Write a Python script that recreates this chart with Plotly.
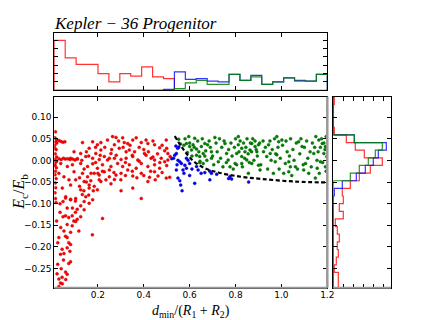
import numpy as np
import plotly.graph_objects as go

# axis ranges
x_range = [0.01, 1.2]
y_range = [-0.294, 0.147]

# red points (d_min/(R1+R2), Ec/Eb)
red_pts = [
    (0.015, 0.066), (0.013, 0.052), (0.02, 0.048), (0.016, 0.043), (0.012, 0.035), (0.018, 0.025),
    (0.014, 0.015), (0.02, 0.008), (0.013, 0.002), (0.017, -0.004), (0.012, -0.01), (0.019, -0.017),
    (0.015, -0.025), (0.013, -0.033), (0.018, -0.042), (0.014, -0.052), (0.016, -0.063), (0.013, -0.075),
    (0.015, -0.088), (0.017, -0.097), (0.013, -0.012), (0.02, -0.002), (0.012, 0.028), (0.021, 0.04),
    (0.03, 0.046), (0.038, 0.044), (0.047, 0.042), (0.056, 0.043),
    (0.03, 0.004), (0.04, 0.002), (0.05, 0.005), (0.058, 0.003), (0.068, 0.004), (0.078, 0.002),
    (0.09, 0.003), (0.1, 0.001), (0.11, 0.004),
    (0.038, -0.007), (0.067, -0.014), (0.03, -0.03), (0.052, -0.038), (0.074, -0.045), (0.045, -0.064),
    (0.081, -0.057), (0.06, -0.084), (0.081, -0.091), (0.103, -0.088), (0.089, -0.11), (0.096, 0.02),
    (0.089, -0.01), (0.096, -0.026), (0.103, -0.045), (0.035, -0.1), (0.048, -0.095),
    (0.03, -0.291), (0.037, -0.283), (0.044, -0.27), (0.03, -0.274), (0.059, -0.258), (0.066, -0.263),
    (0.073, -0.238), (0.081, -0.234), (0.037, -0.217), (0.052, -0.215), (0.044, -0.205), (0.066, -0.202),
    (0.081, -0.194), (0.073, -0.19), (0.03, -0.178), (0.059, -0.175), (0.066, -0.178), (0.052, -0.163),
    (0.081, -0.166), (0.088, -0.151), (0.066, -0.148), (0.095, -0.14), (0.059, -0.128), (0.073, -0.132),
    (0.088, -0.128), (0.102, -0.12), (0.11, -0.113), (0.066, -0.11), (0.059, -0.087), (0.081, -0.09),
    (0.102, -0.094), (0.125, -0.105), (0.117, -0.163), (0.11, -0.136), (0.132, -0.079), (0.139, -0.07),
    (0.169, -0.047), (0.176, -0.172), (0.22, -0.134), (0.04, -0.25), (0.025, -0.24), (0.05, -0.23),
    (0.022, -0.262), (0.045, -0.285), (0.06, -0.275), (0.038, -0.155), (0.025, -0.19), (0.048, -0.13),
    (0.035, -0.12), (0.078, -0.21), (0.02, -0.14),
    (0.133, 0.041), (0.177, 0.043), (0.198, 0.036), (0.213, 0.041), (0.242, 0.047), (0.264, 0.055),
    (0.279, 0.053), (0.272, 0.036), (0.308, 0.052), (0.315, 0.041), (0.33, 0.039), (0.352, 0.047),
    (0.367, 0.052), (0.389, 0.041), (0.41, 0.047), (0.418, 0.039), (0.447, 0.036), (0.469, 0.029),
    (0.498, 0.047), (0.491, 0.022), (0.337, 0.024), (0.323, 0.02), (0.293, 0.028), (0.257, 0.016),
    (0.213, 0.024), (0.191, 0.016), (0.162, 0.028), (0.125, 0.016), (0.081, 0.005), (0.111, 0.003),
    (0.147, 0.009), (0.177, 0.005), (0.206, 0.002), (0.228, 0.009), (0.242, 0.001), (0.272, 0.005),
    (0.301, 0.002), (0.323, 0.005), (0.352, 0.009), (0.374, 0.001), (0.403, 0.016), (0.432, 0.005),
    (0.447, 0.001), (0.476, 0.005), (0.505, 0.001), (0.505, 0.016), (0.515, 0.009),
    (0.125, -0.007), (0.155, -0.014), (0.177, -0.008), (0.198, -0.018), (0.22, -0.01), (0.257, -0.014),
    (0.286, -0.007), (0.308, -0.014), (0.337, -0.01), (0.367, -0.018), (0.389, -0.007), (0.418, -0.014),
    (0.447, -0.01), (0.469, -0.018), (0.491, -0.003), (0.133, -0.03), (0.155, -0.038), (0.184, -0.03),
    (0.206, -0.034), (0.228, -0.026), (0.25, -0.038), (0.279, -0.034), (0.301, -0.03), (0.33, -0.022),
    (0.352, -0.036), (0.389, -0.03), (0.425, -0.039), (0.447, -0.026), (0.462, -0.036), (0.498, -0.041),
    (0.513, -0.039), (0.14, -0.049), (0.162, -0.057), (0.184, -0.06), (0.213, -0.049), (0.235, -0.045),
    (0.257, -0.054), (0.272, -0.044), (0.301, -0.07), (0.352, -0.064), (0.389, -0.088), (0.418, -0.049),
    (0.125, -0.068), (0.162, -0.064), (0.198, -0.068), (0.206, -0.045), (0.147, -0.084), (0.14, -0.114),
    (0.162, -0.099), (0.177, -0.091), (0.125, -0.13), (0.103, -0.141),
    (0.23, 0.03), (0.26, 0.025), (0.29, 0.045), (0.31, 0.03), (0.34, 0.035), (0.36, 0.02),
    (0.38, 0.03), (0.4, 0.025), (0.42, 0.02), (0.44, 0.045), (0.46, 0.015), (0.48, 0.035),
    (0.5, 0.028), (0.22, -0.025), (0.25, -0.022), (0.27, -0.028), (0.3, -0.045), (0.32, -0.035),
    (0.35, -0.025), (0.37, -0.04), (0.4, -0.035), (0.43, -0.025), (0.45, -0.045), (0.48, -0.028),
    (0.5, -0.012), (0.47, -0.005), (0.44, 0.008), (0.41, 0.012), (0.38, -0.002), (0.35, 0.012),
    (0.32, -0.005), (0.28, 0.012), (0.25, 0.005), (0.21, 0.012), (0.19, -0.005), (0.16, 0.01),
    (0.14, -0.02), (0.12, -0.04), (0.15, -0.05), (0.17, -0.03), (0.13, 0.0), (0.12, -0.06),
    (0.16, -0.08), (0.14, -0.095), (0.18, -0.07), (0.2, -0.03), (0.19, 0.03), (0.15, 0.02),
]

blue_pts = [
    (0.542, 0.016), (0.549, 0.0), (0.557, -0.003), (0.535, 0.012), (0.564, -0.007), (0.571, -0.022),
    (0.542, -0.022), (0.549, -0.041), (0.557, -0.047), (0.561, -0.057), (0.567, -0.07), (0.579, -0.011),
    (0.586, -0.018), (0.593, 0.0), (0.586, 0.005), (0.6, -0.007), (0.63, -0.014), (0.637, -0.022),
    (0.622, -0.053), (0.666, -0.028), (0.688, -0.045), (0.688, -0.025), (0.695, -0.03), (0.718, -0.032),
    (0.776, -0.037), (0.783, -0.043), (0.77, -0.042), (0.857, -0.05), (0.54, 0.033), (0.548, 0.028),
    (0.553, 0.031), (0.53, 0.005), (0.522, 0.004), (0.545, -0.01), (0.575, -0.03), (0.61, -0.02),
    (0.65, -0.03), (0.6, -0.035),
]

green_pts = [
    (0.552, 0.049), (0.596, 0.055), (0.622, 0.051), (0.615, 0.036), (0.586, 0.039), (0.6, 0.032),
    (0.608, 0.024), (0.63, 0.026), (0.651, 0.032), (0.666, 0.039), (0.678, 0.036), (0.659, 0.016),
    (0.63, 0.012), (0.644, 0.009), (0.666, 0.01), (0.695, 0.02), (0.71, 0.053), (0.695, 0.005),
    (0.659, -0.007), (0.644, -0.005), (0.725, -0.003), (0.754, 0.039), (0.761, 0.016), (0.768, 0.001),
    (0.776, -0.015), (0.812, 0.055), (0.812, 0.036), (0.827, 0.028), (0.841, 0.02), (0.805, 0.016),
    (0.827, 0.009), (0.798, -0.007), (0.827, -0.007), (0.849, 0.001), (0.871, 0.039), (0.885, 0.032),
    (0.9, 0.036), (0.863, 0.024), (0.893, 0.02), (0.871, -0.007), (0.9, -0.011), (0.907, -0.022),
    (0.856, -0.03), (0.944, 0.036), (0.951, 0.016), (0.98, 0.055), (0.988, 0.043), (1.002, 0.047),
    (0.973, -0.003), (1.017, -0.007), (1.032, -0.003), (1.039, -0.015), (1.075, 0.043), (1.09, 0.032),
    (1.061, -0.015), (1.105, -0.007), (1.119, -0.03), (1.141, 0.016), (1.148, -0.041), (1.163, 0.047),
    (1.178, 0.039), (1.192, 0.032), (1.185, 0.016), (1.198, 0.009), (1.17, -0.003), (1.192, -0.015),
    (1.156, -0.018), (1.032, -0.026), (1.097, -0.022), (0.98, 0.013), (0.936, 0.009), (0.922, 0.02),
    (0.56, 0.038), (0.575, 0.035), (0.58, 0.05), (0.59, 0.018), (0.6, 0.04), (0.61, 0.01),
    (0.62, 0.03), (0.635, 0.045), (0.64, 0.02), (0.645, -0.002), (0.655, 0.05), (0.67, 0.022),
    (0.675, 0.0), (0.685, 0.045), (0.69, 0.03), (0.7, 0.01), (0.705, -0.01), (0.715, 0.04),
    (0.72, 0.02), (0.73, 0.05), (0.735, 0.005), (0.74, 0.03), (0.745, -0.015), (0.75, 0.045),
    (0.76, -0.005), (0.77, 0.025), (0.78, 0.04), (0.785, 0.01), (0.79, -0.02), (0.795, 0.03),
    (0.8, 0.05), (0.805, -0.01), (0.815, 0.02), (0.82, 0.045), (0.83, -0.015), (0.835, 0.04),
    (0.84, 0.005), (0.845, 0.03), (0.85, 0.05), (0.855, 0.015), (0.86, -0.005), (0.865, 0.04),
    (0.87, 0.02), (0.875, 0.05), (0.88, 0.0), (0.885, 0.045), (0.89, 0.025), (0.895, 0.01),
    (0.905, 0.04), (0.91, -0.01), (0.92, 0.045), (0.93, 0.03), (0.94, -0.02), (0.95, 0.045),
    (0.955, 0.0), (0.96, 0.025), (0.965, -0.03), (0.97, 0.05), (0.975, 0.015), (0.985, 0.03),
    (0.99, -0.02), (0.995, 0.005), (1.005, 0.035), (1.01, -0.03), (1.02, 0.045), (1.025, 0.02),
    (1.035, 0.01), (1.04, 0.05), (1.045, -0.035), (1.05, 0.025), (1.055, 0.0), (1.065, 0.04),
    (1.07, -0.02), (1.08, 0.015), (1.085, 0.05), (1.095, -0.01), (1.1, 0.03), (1.11, 0.045),
    (1.115, 0.005), (1.125, 0.02), (1.13, -0.015), (1.135, 0.04), (1.145, 0.03), (1.15, 0.055),
    (1.155, 0.0), (1.16, 0.02), (1.165, -0.03), (1.17, 0.03), (1.175, 0.05), (1.18, -0.005),
    (1.185, 0.04), (1.19, 0.025), (1.195, -0.025), (1.195, 0.055),
]

# dashed boundary curve
curve_x = [0.535, 0.564, 0.586, 0.615, 0.666, 0.725, 0.813, 0.915, 1.061, 1.2]
curve_y = [0.056, 0.032, 0.016, -0.001, -0.018, -0.028, -0.037, -0.043, -0.049, -0.051]

# top histogram counts (25 bins over x_range, left to right)
top_red = [60, 39, 31, 31, 20, 10, 20, 17, 28, 16, 14, 0, 0, 0, 0, 0, 0, 0, 0, 0, 0, 0, 0, 0, 0]
top_blue = [0, 0, 0, 0, 0, 0, 0, 0, 0, 0, 1, 22, 13, 14, 11, 10, 19, 12, 18, 7, 10, 15, 12, 11, 19]
top_green = [0, 0, 0, 0, 0, 0, 0, 0, 0, 0, 0, 2, 9, 12, 7, 7, 19, 12, 16, 7, 10, 15, 11, 11, 19]

# right histogram counts (25 bins over y_range, listed top to bottom)
right_red = [1, 0, 0, 0, 1, 13, 22, 31, 49, 37, 26, 17, 9, 10, 6, 10, 2, 4, 6, 4, 5, 3, 1, 5, 5]
right_blue = [0, 0, 0, 0, 0, 21, 53, 45, 40, 32, 23, 9, 1, 0, 0, 0, 0, 0, 0, 0, 0, 0, 0, 0, 0]
right_green = [0, 0, 0, 0, 0, 21, 49, 42, 35, 26, 17, 0, 0, 0, 0, 0, 0, 0, 0, 0, 0, 0, 0, 0, 0]

RED = '#ff0000'
BLUE = '#0000ff'
GREEN = '#008000'

x_edges = list(np.linspace(x_range[0], x_range[1], 26))
y_edges = list(np.linspace(y_range[0], y_range[1], 26))


def top_step(counts):
    xs = [x_edges[0]] + x_edges + [x_edges[-1]]
    ys = [0] + counts + [counts[-1], 0]
    return xs, ys


def right_step(counts):
    c = counts[::-1]
    ys = [y_edges[0]] + y_edges + [y_edges[-1]]
    xs = [0] + c + [c[-1], 0]
    return xs, ys


fig = go.Figure()

for pts, col, edge in [(red_pts, RED, '#c00000'), (blue_pts, BLUE, '#0000b0'), (green_pts, GREEN, '#006000')]:
    px, py = zip(*pts)
    fig.add_trace(go.Scatter(
        x=px, y=py, mode='markers', xaxis='x', yaxis='y',
        marker=dict(size=3, color=col, line=dict(width=0.4, color=edge)),
    ))

fig.add_trace(go.Scatter(
    x=curve_x, y=curve_y, mode='lines', xaxis='x', yaxis='y',
    line=dict(color='black', width=2.2, dash='4px,2.5px', shape='spline'),
))

for counts, col in [(top_red, 'rgba(255,0,0,0.8)'), (top_blue, 'rgba(0,0,255,0.8)'), (top_green, 'rgba(0,128,0,0.85)')]:
    hx, hy = top_step(counts)
    fig.add_trace(go.Scatter(x=hx, y=hy, mode='lines', xaxis='x2', yaxis='y2',
                             line=dict(color=col, width=1.2, shape='hv')))

for counts, col in [(right_red, 'rgba(255,0,0,0.8)'), (right_blue, 'rgba(0,0,255,0.8)'), (right_green, 'rgba(0,128,0,0.85)')]:
    hx, hy = right_step(counts)
    fig.add_trace(go.Scatter(x=hx, y=hy, mode='lines', xaxis='x3', yaxis='y3',
                             line=dict(color=col, width=1.2, shape='vh')))

# the page body keeps its 8px margin, so the figure is laid out on 428x312
OFF = 8
W, H = 436 - OFF, 320 - OFF


def fx(p):
    return (p - OFF) / W


def fy(p):
    return 1 - (p - OFF) / H


main_x = [fx(54.3), fx(327.3)]
main_y = [fy(287.7), fy(96.7)]
top_y = [fy(90.3), fy(33.3)]
right_x = [fx(333.3), fx(391)]

frame = dict(showline=True, linecolor='black', linewidth=1, mirror='ticks', ticks='inside',
             ticklen=4, tickwidth=0.8, tickcolor='black', showgrid=False, zeroline=False,
             automargin=False)
tick_font = dict(family='DejaVu Sans', size=9, color='black')
serif = 'Liberation Serif'

fig.update_layout(
    template='none',
    width=W, height=H,
    margin=dict(l=0, r=0, t=0, b=0, pad=0),
    paper_bgcolor='white', plot_bgcolor='white',
    showlegend=False,
    xaxis=dict(domain=main_x, anchor='y', range=x_range, tickvals=[0.2, 0.4, 0.6, 0.8, 1.0, 1.2],
               tickformat='.1f', tickfont=tick_font, ticklabelstandoff=-2, **frame),
    yaxis=dict(domain=main_y, anchor='x', range=y_range, tick0=0, dtick=0.05, tickformat='.2f',
               tickfont=tick_font, **frame),
    xaxis2=dict(domain=main_x, anchor='y2', range=x_range, tickvals=[0.2, 0.4, 0.6, 0.8, 1.0, 1.2],
                showticklabels=False, **frame),
    yaxis2=dict(domain=top_y, anchor='x2', range=[0, 68.4], tick0=0, dtick=10,
                showticklabels=False, **frame),
    xaxis3=dict(domain=right_x, anchor='y3', range=[0, 57.7], tick0=0, dtick=10,
                showticklabels=False, **frame),
    yaxis3=dict(domain=main_y, anchor='x3', range=y_range, tick0=0, dtick=0.05,
                showticklabels=False, **frame),
    annotations=[
        dict(text='<i>Kepler − 36 Progenitor</i>', xref='paper', yref='paper',
             x=main_x[0], y=fy(23), xanchor='left', yanchor='middle', showarrow=False,
             xshift=-2, font=dict(family=serif, size=17, color='black')),
        dict(text='<i>d</i><sub>min</sub>/(<i>R</i><sub>1</sub> + <i>R</i><sub>2</sub>)',
             xref='paper', yref='paper', x=(main_x[0] + main_x[1]) / 2, y=fy(311),
             xanchor='center', yanchor='middle', showarrow=False,
             font=dict(family=serif, size=14, color='black')),
        dict(text='<i>E</i><sub>c</sub>/<i>E</i><sub>b</sub>',
             xref='paper', yref='paper', x=fx(8), y=(main_y[0] + main_y[1]) / 2,
             xanchor='left', yanchor='middle', showarrow=False, textangle=-90,
             font=dict(family=serif, size=16, color='black')),
    ],
    shapes=[
        dict(type='line', xref='x domain', yref='y domain', x0=1, x1=1, y0=0, y1=1,
             line=dict(color='#999999', width=2.5)),
        dict(type='line', xref='x domain', yref='y domain', x0=0, x1=1, y0=0, y1=0,
             line=dict(color='#999999', width=2)),
        dict(type='line', xref='x3 domain', yref='y3 domain', x0=0, x1=1, y0=0, y1=0,
             line=dict(color='#999999', width=2)),
    ],
)

fig.write_html("out.html")
